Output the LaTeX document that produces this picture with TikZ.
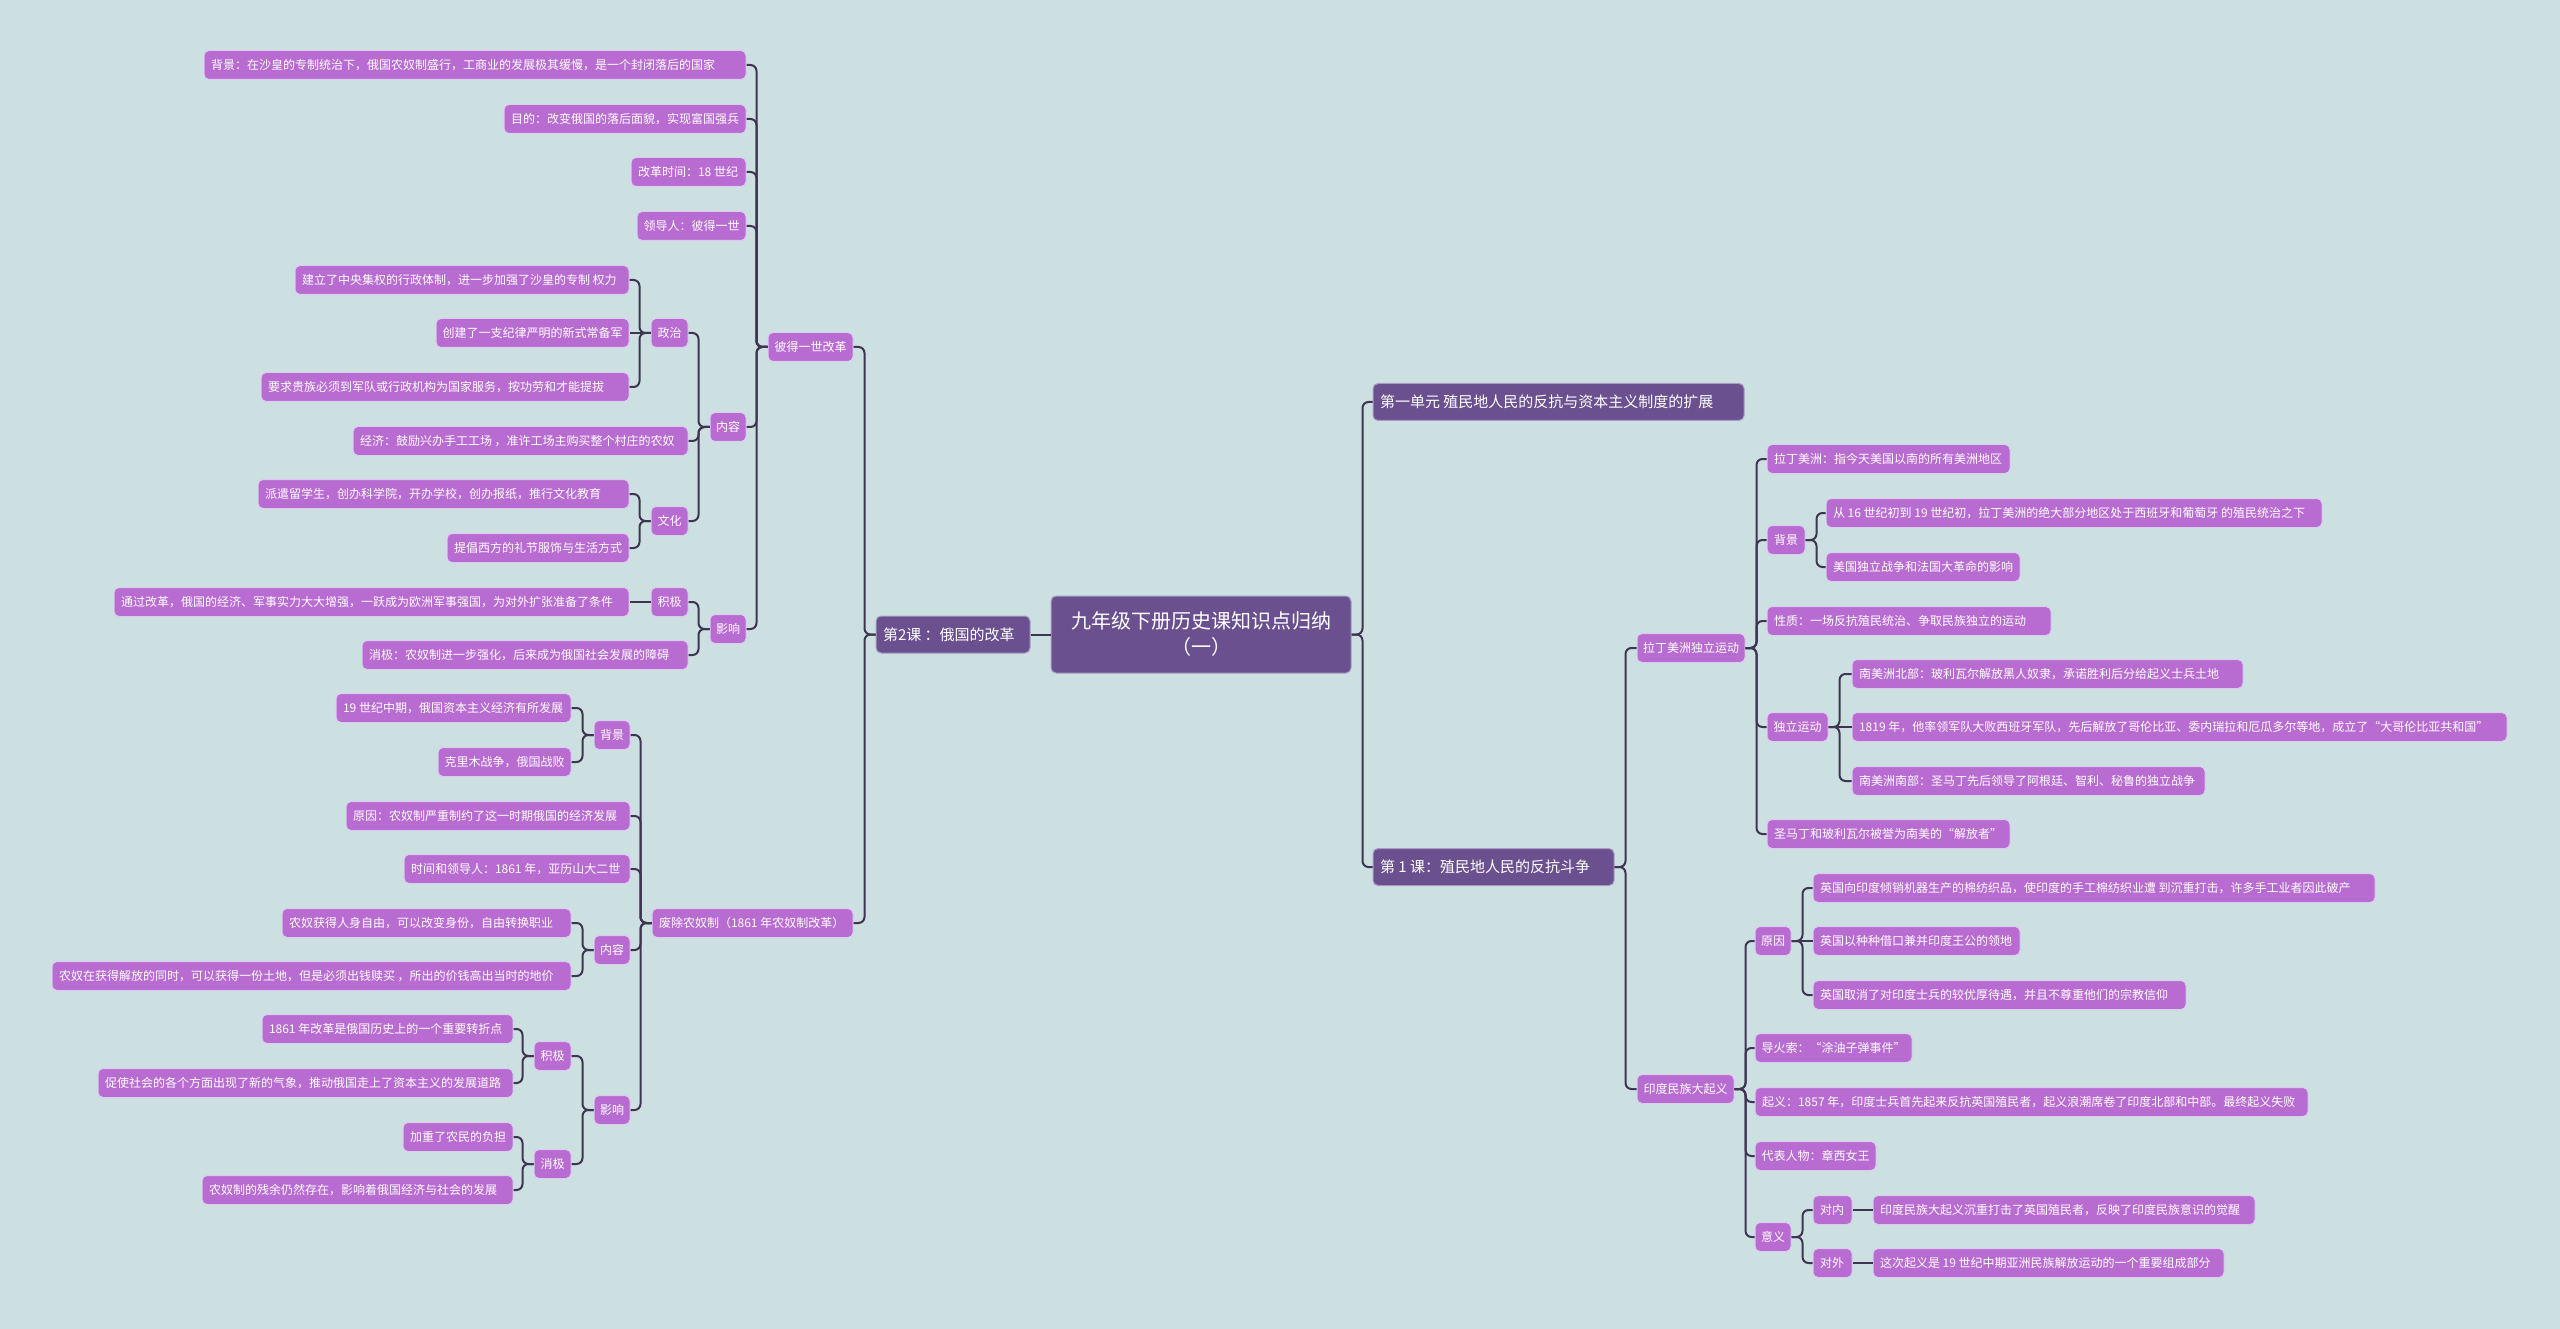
\documentclass[tikz,border=0pt]{standalone}
\usepackage{fontspec}
\setmainfont{Noto Sans CJK SC}
\definecolor{bgc}{HTML}{CDE0E1}
\definecolor{dpur}{HTML}{6B5090}
\definecolor{orch}{HTML}{B86CD2}
\definecolor{dbord}{HTML}{A99AC6}
\definecolor{lbord}{HTML}{DCCAF0}
\definecolor{linec}{HTML}{3F3553}
\tikzset{
  basen/.style={rounded corners=5pt, text=white, inner xsep=0pt, inner ysep=0pt, align=center, line width=1pt},
  rootn/.style={basen, fill=dpur, draw=dbord, minimum height=77pt, font=\fontsize{20}{26}\selectfont},
  lvl/.style={basen, fill=dpur, draw=dbord, minimum height=37pt, font=\fontsize{15}{18}\selectfont},
  leaf/.style={basen, fill=orch, draw=lbord, minimum height=29pt, font=\fontsize{12}{14}\selectfont},
  conn/.style={draw=linec, line width=2pt, rounded corners=6pt},
}
\newcommand\leftfit[2]{\setbox0\hbox{#2}\ifdim\wd0<#1\relax\makebox[#1][l]{\copy0}\else\copy0\fi}
\newcommand\nd[6]{\node[#2, minimum width={(#4-#3)*1pt}] (#1) at ({(#3+#4)/2},#5) {#6};}
\newcommand\nl[6]{\node[#2, minimum width={(#4-#3)*1pt}] (#1) at ({(#3+#4)/2},#5) {\leftfit{\dimexpr #4pt-#3pt-14pt\relax}{#6}};}
\newcommand\cnL[2]{\draw[conn] (#1.west) -- ++(-11,0) |- (#2.east);}
\newcommand\cnR[2]{\draw[conn] (#1.east) -- ++(11,0) |- (#2.west);}
\newcommand\cnSL[2]{\draw[conn] (#1.west) -- (#2.east);}
\newcommand\cnSR[2]{\draw[conn] (#1.east) -- (#2.west);}
\begin{document}
\begin{tikzpicture}[x=1pt,y=-1pt]
\fill[bgc] (0,0) rectangle (2560,1329);
\useasboundingbox (0,0) rectangle (2560,1329);
% root and level 1
\nd{root}{rootn}{1051}{1351}{634.5}{九年级下册历史课知识点归纳\\（一）}
\nl{L}{lvl}{876}{1030}{634.5}{第2课 ：俄国的改革}
\nl{R1}{lvl}{1373}{1744}{402}{第一单元 殖民地人民的反抗与资本主义制度的扩展}
\nl{R2}{lvl}{1373}{1614}{867}{第 1 课：殖民地人民的反抗斗争}
% Peter the Great reform
\nl{A}{leaf}{768}{853}{347}{彼得一世改革}
\nl{A1}{leaf}{204}{746}{65}{背景：在沙皇的专制统治下，俄国农奴制盛行，工商业的发展极其缓慢，是一个封闭落后的国家}
\nl{A2}{leaf}{504}{746}{119}{目的：改变俄国的落后面貌，实现富国强兵}
\nl{A3}{leaf}{631}{746}{172}{改革时间：18 世纪}
\nl{A4}{leaf}{637}{746}{226}{领导人：彼得一世}
\nl{A5}{leaf}{710}{746}{427}{内容}
\nl{A51}{leaf}{651}{688}{333}{政治}
\nl{A511}{leaf}{295}{629}{280}{建立了中央集权的行政体制，进一步加强了沙皇的专制 权力}
\nl{A512}{leaf}{436}{629}{333}{创建了一支纪律严明的新式常备军}
\nl{A513}{leaf}{261}{629}{387}{要求贵族必须到军队或行政机构为国家服务，按功劳和才能提拔}
\nl{A52}{leaf}{353}{688}{441}{经济：鼓励兴办手工工场 ，准许工场主购买整个村庄的农奴}
\nl{A53}{leaf}{651}{688}{521}{文化}
\nl{A531}{leaf}{258}{629}{494}{派遣留学生，创办科学院，开办学校，创办报纸，推行文化教育}
\nl{A532}{leaf}{447}{629}{548}{提倡西方的礼节服饰与生活方式}
\nl{A6}{leaf}{710}{746}{629}{影响}
\nl{A61}{leaf}{651}{688}{602}{积极}
\nl{A611}{leaf}{114}{629}{602}{通过改革，俄国的经济、军事实力大大增强，一跃成为欧洲军事强国，为对外扩张准备了条件}
\nl{A62}{leaf}{362}{688}{655}{消极：农奴制进一步强化，后来成为俄国社会发展的障碍}
% abolition of serfdom
\nl{B}{leaf}{652}{853}{923}{废除农奴制（1861 年农奴制改革）}
\nl{B1}{leaf}{594}{630}{735}{背景}
\nl{B11}{leaf}{336}{571}{708}{19 世纪中期，俄国资本主义经济有所发展}
\nl{B12}{leaf}{438}{571}{762}{克里木战争，俄国战败}
\nl{B2}{leaf}{346}{630}{816}{原因：农奴制严重制约了这一时期俄国的经济发展}
\nl{B3}{leaf}{404}{630}{869}{时间和领导人：1861 年，亚历山大二世}
\nl{B4}{leaf}{594}{630}{950}{内容}
\nl{B41}{leaf}{282}{571}{923}{农奴获得人身自由，可以改变身份，自由转换职业}
\nl{B42}{leaf}{52}{571}{976}{农奴在获得解放的同时，可以获得一份土地，但是必须出钱赎买 ，所出的价钱高出当时的地价}
\nl{B5}{leaf}{594}{630}{1110}{影响}
\nl{B51}{leaf}{534}{571}{1056}{积极}
\nl{B511}{leaf}{262}{513}{1029}{1861 年改革是俄国历史上的一个重要转折点}
\nl{B512}{leaf}{98}{513}{1083}{促使社会的各个方面出现了新的气象，推动俄国走上了资本主义的发展道路}
\nl{B52}{leaf}{534}{571}{1164}{消极}
\nl{B521}{leaf}{403}{513}{1137}{加重了农民的负担}
\nl{B522}{leaf}{202}{513}{1190}{农奴制的残余仍然存在，影响着俄国经济与社会的发展}
% Latin America
\nl{C}{leaf}{1637}{1745}{648}{拉丁美洲独立运动}
\nl{C1}{leaf}{1767}{2010}{459}{拉丁美洲：指今天美国以南的所有美洲地区}
\nl{C2}{leaf}{1767}{1805}{540}{背景}
\nl{C21}{leaf}{1826}{2322}{513}{从 16 世纪初到 19 世纪初，拉丁美洲的绝大部分地区处于西班牙和葡萄牙 的殖民统治之下}
\nl{C22}{leaf}{1826}{2020}{567}{美国独立战争和法国大革命的影响}
\nl{C3}{leaf}{1767}{2051}{621}{性质：一场反抗殖民统治、争取民族独立的运动}
\nl{C4}{leaf}{1767}{1828}{727}{独立运动}
\nl{C41}{leaf}{1852}{2243}{674}{南美洲北部：玻利瓦尔解放黑人奴隶，承诺胜利后分给起义士兵土地}
\nl{C42}{leaf}{1852}{2507}{727}{1819 年，他率领军队大败西班牙军队，先后解放了哥伦比亚、委内瑞拉和厄瓜多尔等地，成立了“大哥伦比亚共和国”}
\nl{C43}{leaf}{1852}{2205}{781}{南美洲南部：圣马丁先后领导了阿根廷、智利、秘鲁的独立战争}
\nl{C5}{leaf}{1767}{2010}{834}{圣马丁和玻利瓦尔被誉为南美的“解放者”}
% India
\nl{D}{leaf}{1637}{1734}{1089}{印度民族大起义}
\nl{D1}{leaf}{1755}{1791}{941}{原因}
\nl{D11}{leaf}{1813}{2375}{888}{英国向印度倾销机器生产的棉纺织品，使印度的手工棉纺织业遭 到沉重打击，许多手工业者因此破产}
\nl{D12}{leaf}{1813}{2020}{941}{英国以种种借口兼并印度王公的领地}
\nl{D13}{leaf}{1813}{2186}{995}{英国取消了对印度士兵的较优厚待遇，并且不尊重他们的宗教信仰}
\nl{D2}{leaf}{1755}{1912}{1048}{导火索：“涂油子弹事件”}
\nl{D3}{leaf}{1755}{2308}{1102}{起义：1857 年，印度士兵首先起来反抗英国殖民者，起义浪潮席卷了印度北部和中部。最终起义失败}
\nl{D4}{leaf}{1755}{1876}{1156}{代表人物：章西女王}
\nl{D5}{leaf}{1755}{1791}{1237}{意义}
\nl{D51}{leaf}{1813}{1852}{1210}{对内}
\nl{D511}{leaf}{1873}{2255}{1210}{印度民族大起义沉重打击了英国殖民者，反映了印度民族意识的觉醒}
\nl{D52}{leaf}{1813}{1852}{1263}{对外}
\nl{D521}{leaf}{1873}{2224}{1263}{这次起义是 19 世纪中期亚洲民族解放运动的一个重要组成部分}
% connectors left
\cnSL{root}{L}
\cnL{L}{A} \cnL{L}{B}
\cnL{A}{A1} \cnL{A}{A2} \cnL{A}{A3} \cnL{A}{A4} \cnL{A}{A5} \cnL{A}{A6}
\cnL{A5}{A51} \cnL{A5}{A52} \cnL{A5}{A53}
\cnL{A51}{A511} \cnSL{A51}{A512} \cnL{A51}{A513}
\cnL{A53}{A531} \cnL{A53}{A532}
\cnL{A6}{A61} \cnL{A6}{A62}
\cnSL{A61}{A611}
\cnL{B}{B1} \cnL{B}{B2} \cnL{B}{B3} \cnL{B}{B4} \cnL{B}{B5}
\cnL{B1}{B11} \cnL{B1}{B12}
\cnL{B4}{B41} \cnL{B4}{B42}
\cnL{B5}{B51} \cnL{B5}{B52}
\cnL{B51}{B511} \cnL{B51}{B512}
\cnL{B52}{B521} \cnL{B52}{B522}
% connectors right
\cnR{root}{R1} \cnR{root}{R2}
\cnR{R2}{C} \cnR{R2}{D}
\cnR{C}{C1} \cnR{C}{C2} \cnR{C}{C3} \cnR{C}{C4} \cnR{C}{C5}
\cnR{C2}{C21} \cnR{C2}{C22}
\cnR{C4}{C41} \cnSR{C4}{C42} \cnR{C4}{C43}
\cnR{D}{D1} \cnR{D}{D2} \cnR{D}{D3} \cnR{D}{D4} \cnR{D}{D5}
\cnR{D1}{D11} \cnSR{D1}{D12} \cnR{D1}{D13}
\cnR{D5}{D51} \cnR{D5}{D52}
\cnSR{D51}{D511} \cnSR{D52}{D521}
\end{tikzpicture}
\end{document}
